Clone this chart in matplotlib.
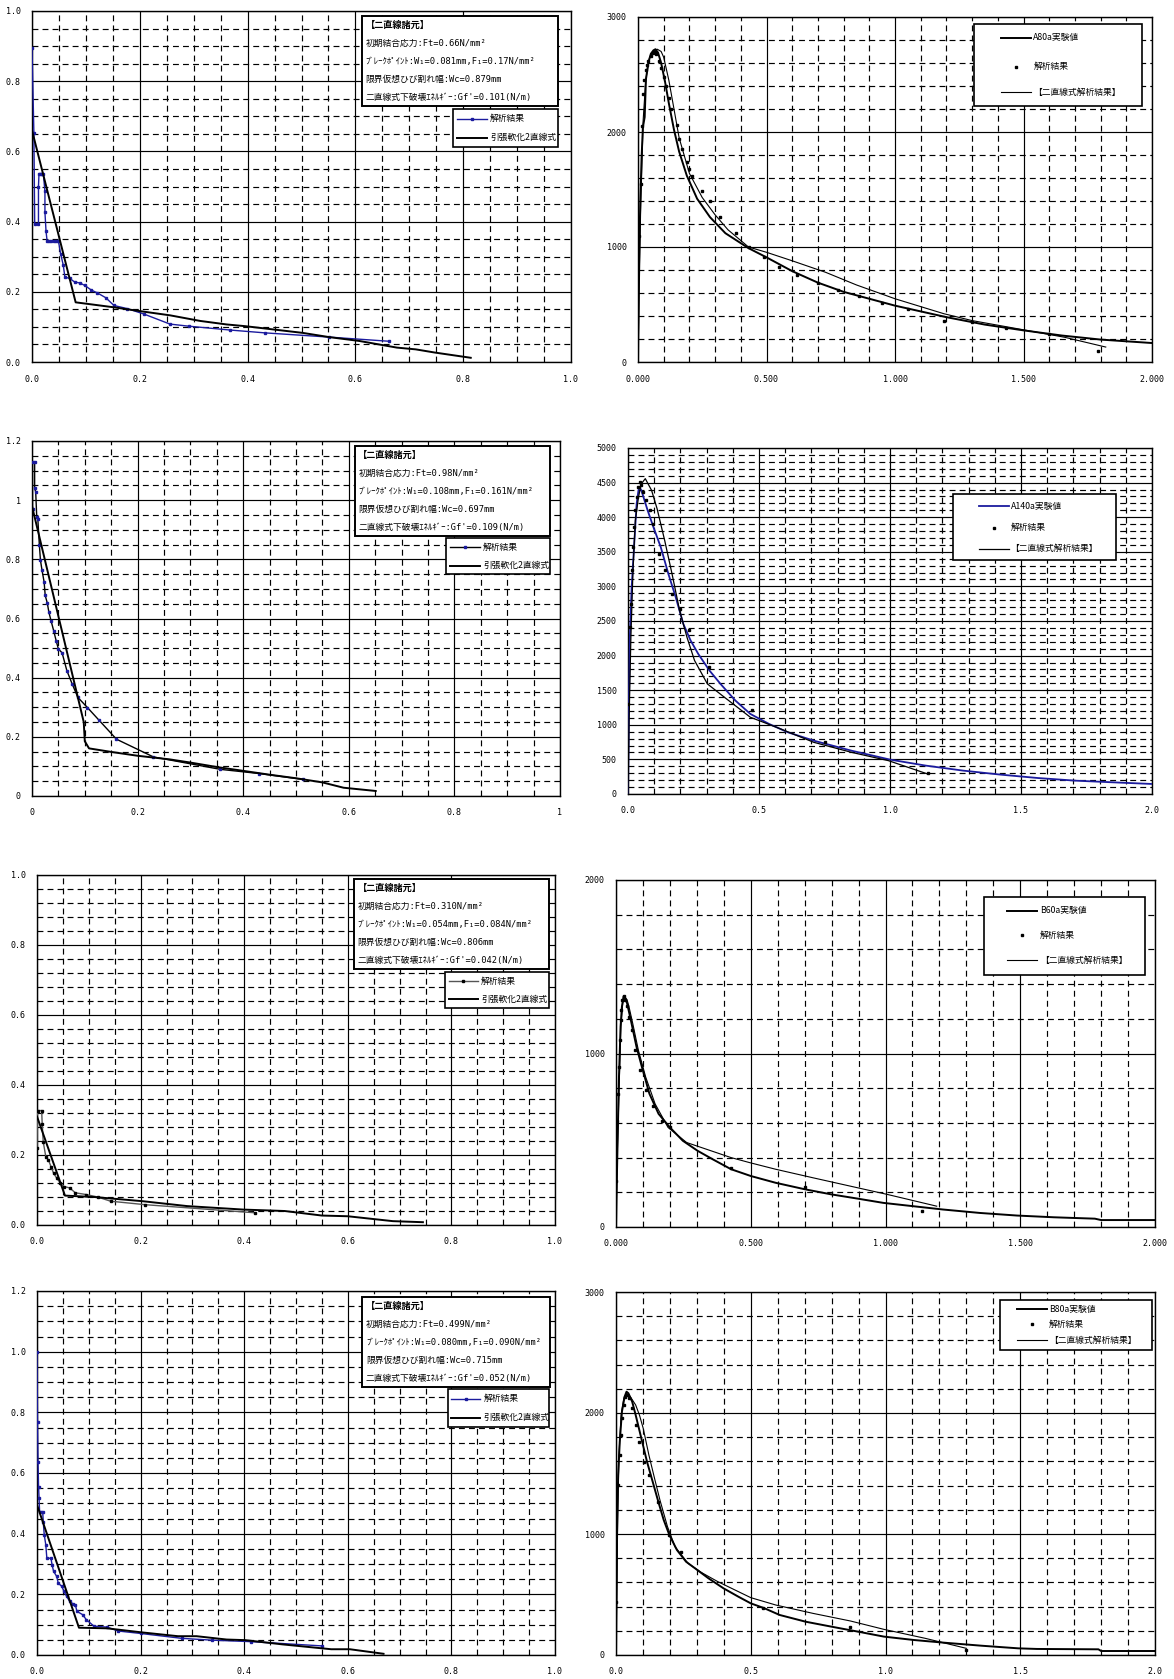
import matplotlib
matplotlib.use('Agg')
import matplotlib.pyplot as plt
from matplotlib.patches import Rectangle
from matplotlib.lines import Line2D
from matplotlib.ticker import MultipleLocator, FixedLocator, FixedFormatter

plt.rcParams['font.family'] = ['Noto Sans CJK JP', 'DejaVu Sans']

# ---------------- Panel 1 ----------------
p1_ana_x = [0, 0.0035, 0.005, 0.012, 0.012, 0.013, 0.016, 0.019, 0.021, 0.024, 0.024, 0.026, 0.028, 0.032, 0.036,
            0.040, 0.045, 0.049, 0.053, 0.058, 0.061, 0.070, 0.079, 0.089, 0.098, 0.110, 0.121, 0.137, 0.152,
            0.177, 0.207, 0.256, 0.291, 0.368, 0.432, 0.551, 0.663]
p1_ana_y = [0.894, 0.652, 0.393, 0.393, 0.500, 0.537, 0.537, 0.537, 0.537, 0.486, 0.427, 0.373, 0.345, 0.345, 0.345,
            0.345, 0.345, 0.345, 0.309, 0.276, 0.242, 0.238, 0.228, 0.225, 0.218, 0.205, 0.197, 0.183, 0.161,
            0.152, 0.137, 0.108, 0.102, 0.091, 0.083, 0.071, 0.059]
p1_bil_x = [0, 0.081, 0.151, 0.200, 0.256, 0.312, 0.361, 0.396, 0.502, 0.551, 0.607, 0.677, 0.712, 0.747, 0.814]
p1_bil_y = [0.66, 0.17, 0.156, 0.145, 0.133, 0.117, 0.107, 0.102, 0.083, 0.071, 0.060, 0.041, 0.036, 0.027, 0.012]
p1_xticks = [0, 0.2, 0.4, 0.6, 0.8, 1.0]
p1_xlabels = ['0.0', '0.2', '0.4', '0.6', '0.8', '1.0']
p1_yticks = [0, 0.2, 0.4, 0.6, 0.8, 1.0]
p1_ylabels = ['0.0', '0.2', '0.4', '0.6', '0.8', '1.0']
p1_box = ['【二直線諸元】', '初期結合応力:Ft=0.66N/mm²', 'ﾌﾞﾚｰｸﾎﾟｲﾝﾄ:W₁=0.081mm,F₁=0.17N/mm²',
          '限界仮想ひび割れ幅:Wc=0.879mm', "二直線式下破壊ｴﾈﾙｷﾞｰ:Gf'=0.101(N/m)"]

# ---------------- Panel 2 ----------------
p2_exp_x = [0, 0.003, 0.009, 0.014, 0.019, 0.026, 0.031, 0.04, 0.05, 0.06, 0.068, 0.078, 0.09, 0.105, 0.12, 0.14,
            0.16, 0.19, 0.23, 0.28, 0.34, 0.43, 0.5, 0.6, 0.7, 0.8, 0.9, 1.0, 1.1, 1.2, 1.35, 1.5, 1.65, 1.8, 1.9, 2.0]
p2_exp_y = [0, 740, 1400, 1780, 2040, 2130, 2460, 2600, 2680, 2710, 2720, 2690, 2600, 2440, 2250, 2020,
            1830, 1620, 1420, 1260, 1120, 990, 910, 790, 690, 610, 550, 490, 440, 390, 325, 275, 230, 195, 180, 165]
p2_ana_x = [0.005, 0.01, 0.015, 0.02, 0.025, 0.03, 0.035, 0.04, 0.05, 0.06, 0.065, 0.07, 0.08, 0.09, 0.1, 0.11,
            0.12, 0.13, 0.15, 0.16, 0.17, 0.19, 0.2, 0.21, 0.25, 0.28, 0.32, 0.38, 0.43, 0.49, 0.55, 0.62, 0.7,
            0.78, 0.86, 0.95, 1.05, 1.19, 1.3, 1.43, 1.6, 1.79]
p2_ana_y = [1100, 1550, 2050, 2330, 2450, 2540, 2580, 2620, 2660, 2690, 2700, 2680, 2620, 2560, 2480, 2400,
            2300, 2200, 2060, 1940, 1850, 1740, 1680, 1620, 1490, 1400, 1260, 1120, 1000, 910, 830, 760, 690,
            630, 570, 515, 465, 355, 350, 300, 245, 95]
p2_bil_x = [0, 0.01, 0.02, 0.03, 0.045, 0.06, 0.075, 0.09, 0.1, 0.12, 0.14, 0.16, 0.2, 0.25, 0.3, 0.35, 0.43,
            0.5, 0.6, 0.73, 0.85, 1.0, 1.19, 1.3, 1.5, 1.66, 1.82]
p2_bil_y = [0, 1300, 2100, 2450, 2650, 2700, 2720, 2700, 2650, 2450, 2200, 1950, 1640, 1430, 1280, 1150, 1000,
            954, 880, 780, 670, 550, 420, 360, 280, 215, 130]
p2_xticks = [0, 0.5, 1.0, 1.5, 2.0]
p2_xlabels = ['0.000', '0.500', '1.000', '1.500', '2.000']
p2_yticks = [0, 1000, 2000, 3000]
p2_ylabels = ['0', '1000', '2000', '3000']
p2_leg = ['A80a実験値', '解析結果', '【二直線式解析結果】']

# ---------------- Panel 3 ----------------
p3_ana_x = [0.001, 0.001, 0.005, 0.005, 0.007, 0.009, 0.011, 0.014, 0.016, 0.019, 0.023, 0.025, 0.029, 0.032,
            0.036, 0.041, 0.046, 0.05, 0.057, 0.066, 0.076, 0.087, 0.105, 0.126, 0.16, 0.23, 0.357, 0.43, 0.514]
p3_ana_y = [0.97, 1.128, 1.128, 1.04, 1.028, 0.943, 0.937, 0.847, 0.797, 0.763, 0.723, 0.678, 0.652, 0.621,
            0.593, 0.559, 0.523, 0.497, 0.484, 0.424, 0.379, 0.333, 0.299, 0.258, 0.192, 0.132, 0.09, 0.076, 0.056]
p3_bil_x = [0, 0.098, 0.1, 0.108, 0.15, 0.2, 0.26, 0.3, 0.35, 0.4, 0.45, 0.5, 0.55, 0.59, 0.651]
p3_bil_y = [0.98, 0.25, 0.185, 0.161, 0.149, 0.136, 0.124, 0.113, 0.098, 0.085, 0.072, 0.060, 0.046, 0.028, 0.017]
p3_xticks = [0, 0.2, 0.4, 0.6, 0.8, 1.0]
p3_xlabels = ['0', '0.2', '0.4', '0.6', '0.8', '1']
p3_yticks = [0, 0.2, 0.4, 0.6, 0.8, 1.0, 1.2]
p3_ylabels = ['0', '0.2', '0.4', '0.6', '0.8', '1', '1.2']
p3_box = ['【二直線諸元】', '初期結合応力:Ft=0.98N/mm²', 'ﾌﾞﾚｰｸﾎﾟｲﾝﾄ:W₁=0.108mm,F₁=0.161N/mm²',
          '限界仮想ひび割れ幅:Wc=0.697mm', "二直線式下破壊ｴﾈﾙｷﾞｰ:Gf'=0.109(N/m)"]

# ---------------- Panel 4 ----------------
p4_exp_x = [0, 0.003, 0.007, 0.014, 0.023, 0.033, 0.04, 0.044, 0.051, 0.061, 0.075, 0.097, 0.125, 0.154, 0.182,
            0.211, 0.239, 0.268, 0.311, 0.353, 0.41, 0.467, 0.538, 0.61, 0.709, 0.852, 1.0, 1.137, 1.279, 1.422,
            1.564, 1.707, 1.849, 2.0]
p4_exp_y = [0, 1060, 2266, 2990, 3568, 4195, 4388, 4436, 4388, 4267, 4098, 3857, 3568, 3182, 2845,
            2459, 2218, 2025, 1784, 1591, 1350, 1157, 1013, 892, 771, 627, 497, 410, 338, 280,
            231, 193, 169, 145]
p4_ana_x = [0.001, 0.009, 0.011, 0.014, 0.019, 0.023, 0.028, 0.033, 0.037, 0.044, 0.051, 0.058, 0.068, 0.083,
            0.097, 0.118, 0.14, 0.168, 0.197, 0.232, 0.311, 0.474, 0.752, 1.144]
p4_ana_y = [1302, 2411, 2748, 3230, 3568, 3857, 4098, 4291, 4436, 4508, 4460, 4364, 4243, 4098,
            3905, 3472, 3230, 2893, 2676, 2363, 1832, 1215, 747, 299]
p4_bil_x = [0, 0.004, 0.011, 0.019, 0.028, 0.04, 0.051, 0.066, 0.09, 0.111, 0.14, 0.168, 0.197, 0.225, 0.254,
            0.303, 0.368, 0.467, 0.567, 0.709, 0.852, 0.994, 1.144]
p4_bil_y = [0, 1060, 2266, 3230, 3954, 4291, 4484, 4557, 4388, 4123, 3664, 3182, 2652, 2266, 1929,
            1591, 1398, 1109, 964, 747, 603, 482, 289]
p4_xticks = [0, 0.5, 1.0, 1.5, 2.0]
p4_xlabels = ['0.0', '0.5', '1.0', '1.5', '2.0']
p4_yticks = [0, 500, 1000, 1500, 2000, 2500, 3000, 3500, 4000, 4500, 5000]
p4_ylabels = ['0', '500', '1000', '1500', '2000', '2500', '3000', '3500', '4000', '4500', '5000']
p4_leg = ['A140a実験値', '解析結果', '【二直線式解析結果】']

# ---------------- Panel 5 ----------------
p5_ana_x = [0, 0.001, 0.009, 0.010, 0.012, 0.017, 0.022, 0.027, 0.032, 0.038, 0.045, 0.052, 0.063, 0.074, 0.095,
            0.117, 0.142, 0.209, 0.42]
p5_ana_y = [0.22, 0.327, 0.327, 0.29, 0.238, 0.195, 0.186, 0.167, 0.148, 0.134, 0.12, 0.11, 0.106, 0.092, 0.087,
            0.08, 0.068, 0.058, 0.035]
p5_bil_x = [0, 0.054, 0.11, 0.204, 0.29, 0.399, 0.478, 0.55, 0.6, 0.687, 0.745]
p5_bil_y = [0.31, 0.084, 0.08, 0.068, 0.054, 0.044, 0.04, 0.027, 0.025, 0.011, 0.008]
p5_xticks = [0, 0.2, 0.4, 0.6, 0.8, 1.0]
p5_xlabels = ['0.0', '0.2', '0.4', '0.6', '0.8', '1.0']
p5_yticks = [0, 0.2, 0.4, 0.6, 0.8, 1.0]
p5_ylabels = ['0.0', '0.2', '0.4', '0.6', '0.8', '1.0']
p5_box = ['【二直線諸元】', '初期結合応力:Ft=0.310N/mm²', 'ﾌﾞﾚｰｸﾎﾟｲﾝﾄ:W₁=0.054mm,F₁=0.084N/mm²',
          '限界仮想ひび割れ幅:Wc=0.806mm', "二直線式下破壊ｴﾈﾙｷﾞｰ:Gf'=0.042(N/m)"]

# ---------------- Panel 6 ----------------
p6_exp_x = [0, 0.003, 0.007, 0.011, 0.017, 0.022, 0.028, 0.034, 0.041, 0.055, 0.076, 0.096, 0.124, 0.158, 0.2,
            0.248, 0.303, 0.358, 0.427, 0.5, 0.592, 0.702, 0.799, 0.895, 0.992, 1.102, 1.212, 1.35, 1.488, 1.625,
            1.777, 1.8, 2.0]
p6_exp_y = [0, 265, 574, 865, 1155, 1271, 1329, 1319, 1290, 1193, 1039, 923, 768, 652, 574,
            497, 439, 391, 333, 294, 255, 217, 188, 164, 139, 120, 101, 81, 66, 56,
            48, 40, 40]
p6_ana_x = [0.0, 0.004, 0.007, 0.011, 0.014, 0.017, 0.019, 0.023, 0.028, 0.034, 0.041, 0.048, 0.058, 0.069,
            0.09, 0.11, 0.138, 0.172, 0.2, 0.427, 0.702, 1.136]
p6_ana_y = [265, 613, 768, 923, 1077, 1193, 1251, 1309, 1329, 1309, 1271, 1213, 1135, 1019,
            903, 787, 700, 613, 574, 342, 230, 95]
p6_bil_x = [0, 0.004, 0.011, 0.018, 0.025, 0.032, 0.041, 0.048, 0.062, 0.083, 0.11, 0.145, 0.193, 0.262, 0.317,
            0.427, 0.496, 0.592, 0.73, 0.868, 1.006, 1.19]
p6_bil_y = [0, 380, 770, 1155, 1290, 1329, 1310, 1271, 1174, 1019, 865, 710, 574, 487, 458,
            400, 371, 333, 284, 236, 188, 120]
p6_xticks = [0, 0.5, 1.0, 1.5, 2.0]
p6_xlabels = ['0.000', '0.500', '1.000', '1.500', '2.000']
p6_yticks = [0, 1000, 2000]
p6_ylabels = ['0', '1000', '2000']
p6_leg = ['B60a実験値', '解析結果', '【二直線式解析結果】']

# ---------------- Panel 7 ----------------
p7_ana_x = [0, 0.001, 0.002, 0.003, 0.004, 0.005, 0.011, 0.012, 0.014, 0.017, 0.019, 0.027, 0.029, 0.032, 0.038,
            0.041, 0.048, 0.052, 0.057, 0.063, 0.07, 0.074, 0.077, 0.088, 0.095, 0.11, 0.135, 0.157, 0.2, 0.279,
            0.337, 0.413, 0.55]
p7_ana_y = [1.0, 0.768, 0.637, 0.555, 0.516, 0.473, 0.473, 0.44, 0.396, 0.363, 0.319, 0.319, 0.298, 0.276, 0.259,
            0.237, 0.226, 0.21, 0.194, 0.177, 0.168, 0.166, 0.144, 0.133, 0.117, 0.095, 0.092, 0.079, 0.071, 0.055,
            0.049, 0.044, 0.03]
p7_bil_x = [0, 0.081, 0.135, 0.2, 0.272, 0.308, 0.366, 0.402, 0.474, 0.568, 0.604, 0.669]
p7_bil_y = [0.495, 0.09, 0.088, 0.075, 0.062, 0.062, 0.051, 0.049, 0.035, 0.019, 0.019, 0.004]
p7_xticks = [0, 0.2, 0.4, 0.6, 0.8, 1.0]
p7_xlabels = ['0.0', '0.2', '0.4', '0.6', '0.8', '1.0']
p7_yticks = [0, 0.2, 0.4, 0.6, 0.8, 1.0, 1.2]
p7_ylabels = ['0.0', '0.2', '0.4', '0.6', '0.8', '1.0', '1.2']
p7_box = ['【二直線諸元】', '初期結合応力:Ft=0.499N/mm²', 'ﾌﾞﾚｰｸﾎﾟｲﾝﾄ:W₁=0.080mm,F₁=0.090N/mm²',
          '限界仮想ひび割れ幅:Wc=0.715mm', "二直線式下破壊ｴﾈﾙｷﾞｰ:Gf'=0.052(N/m)"]

# ---------------- Panel 8 ----------------
p8_exp_x = [0, 0.004, 0.008, 0.014, 0.022, 0.032, 0.039, 0.046, 0.06, 0.073, 0.094, 0.115, 0.136, 0.157, 0.177,
            0.198, 0.226, 0.26, 0.302, 0.343, 0.399, 0.454, 0.5, 0.551, 0.607, 0.704, 0.8, 0.898, 0.994, 1.105,
            1.216, 1.355, 1.493, 1.562, 1.79, 1.8, 2.0]
p8_exp_y = [0, 992, 1488, 1763, 2011, 2135, 2176, 2163, 2094, 1983, 1791, 1598, 1433, 1267, 1116,
            992, 868, 771, 702, 634, 551, 482, 427, 386, 331, 275, 234, 193, 152, 124,
            102, 77, 55, 50, 47, 33, 33]
p8_ana_x = [0, 0.008, 0.014, 0.018, 0.022, 0.028, 0.035, 0.042, 0.05, 0.06, 0.073, 0.087, 0.105, 0.122, 0.157,
            0.198, 0.24, 0.544, 0.87, 1.3]
p8_ana_y = [441, 1405, 1653, 1818, 1956, 2066, 2135, 2149, 2121, 2039, 1901, 1763, 1598, 1488, 1267,
            992, 854, 386, 234, 41]
p8_bil_x = [0, 0.006, 0.011, 0.019, 0.029, 0.039, 0.053, 0.073, 0.087, 0.101, 0.122, 0.143, 0.163, 0.191, 0.219,
            0.267, 0.316, 0.378, 0.5, 0.593, 0.731, 0.87, 0.994, 1.147, 1.3]
p8_bil_y = [0, 1129, 1653, 1983, 2121, 2163, 2135, 2066, 1983, 1873, 1653, 1460, 1281, 1061, 895,
            758, 683, 606, 474, 413, 344, 281, 212, 138, 55]
p8_xticks = [0, 0.5, 1.0, 1.5, 2.0]
p8_xlabels = ['0.0', '0.5', '1.0', '1.5', '2.0']
p8_yticks = [0, 1000, 2000, 3000]
p8_ylabels = ['0', '1000', '2000', '3000']
p8_leg = ['B80a実験値', '解析結果', '【二直線式解析結果】']

left_leg = ['解析結果', '引張軟化2直線式']

BLUE = '#1b1b9e'
W, H = 1174, 1679
fig = plt.figure(figsize=(W / 100, H / 100), dpi=100)
TICKFAMILY = 'DejaVu Sans Mono'
TICKSIZE = 6
BOXFAMILY = ['DejaVu Sans Mono', 'Noto Sans CJK JP']


def make_ax(L, T, R, B):
    return fig.add_axes([L / W, 1 - B / H, (R - L) / W, (B - T) / H])


def style(ax, xlim, ylim, xticks, xlabels, yticks, ylabels, xminor, yminor):
    ax.set_xlim(*xlim)
    ax.set_ylim(*ylim)
    ax.xaxis.set_major_locator(FixedLocator(xticks))
    ax.xaxis.set_major_formatter(FixedFormatter(xlabels))
    ax.yaxis.set_major_locator(FixedLocator(yticks))
    ax.yaxis.set_major_formatter(FixedFormatter(ylabels))
    ax.xaxis.set_minor_locator(MultipleLocator(xminor))
    ax.yaxis.set_minor_locator(MultipleLocator(yminor))
    ax.grid(which='major', color='black', lw=0.85, ls='-')
    ax.grid(which='minor', color='black', lw=0.85, ls=(0, (5, 3.5)))
    ax.set_axisbelow(True)
    ax.tick_params(which='both', length=0)
    ax.tick_params(axis='x', pad=9)
    ax.tick_params(axis='y', pad=8)
    for lab in ax.get_xticklabels() + ax.get_yticklabels():
        lab.set_fontfamily(TICKFAMILY)
        lab.set_fontsize(TICKSIZE)
    for s in ax.spines.values():
        s.set_linewidth(1.0)
        s.set_color('black')


def info_box(ax, lines, x0, y0, x1, y1):
    ax.add_patch(Rectangle((x0, y1), x1 - x0, y0 - y1, transform=ax.transAxes, fc='white', ec='black',
                           lw=1.4, zorder=6))
    n = len(lines)
    for i, t in enumerate(lines):
        yy = y0 - (y0 - y1) * (i + 0.52) / n
        ax.text(x0 + 0.007, yy, t, transform=ax.transAxes, fontsize=6.3 if i else 6.6, va='center', ha='left',
                zorder=7, family=BOXFAMILY, fontweight='bold' if i == 0 else 'normal')


def left_legend(ax, x0, y0, x1, y1, ana_line, bil_line):
    ax.add_patch(Rectangle((x0, y1), x1 - x0, y0 - y1, transform=ax.transAxes, fc='white', ec='black',
                           lw=1.2, zorder=6))
    rows = [y0 - (y0 - y1) * 0.26, y0 - (y0 - y1) * 0.76]
    for yy, src, lab in zip(rows, [ana_line, bil_line], left_leg):
        ax.add_line(Line2D([x0 + 0.007, x0 + 0.063], [yy, yy], transform=ax.transAxes, color=src.get_color(),
                           lw=src.get_linewidth(), zorder=7))
        if src.get_marker() not in (None, 'None', ''):
            ax.add_line(Line2D([x0 + 0.035], [yy], transform=ax.transAxes, marker='s', ms=1.8,
                               color=src.get_markerfacecolor(), ls='none', zorder=8))
        ax.text(x0 + 0.069, yy, lab, transform=ax.transAxes, fontsize=6.3, va='center', ha='left', zorder=7)


def right_legend(ax, x0, y0, x1, y1, labels, handles, rows_frac, lstart, lend, tx):
    ax.add_patch(Rectangle((x0, y1), x1 - x0, y0 - y1, transform=ax.transAxes, fc='white', ec='black',
                           lw=1.2, zorder=6))
    for fr, src, lab in zip(rows_frac, handles, labels):
        yy = y0 - (y0 - y1) * fr
        if src.get_linestyle() not in ('None', 'none', ''):
            ax.add_line(Line2D([x0 + lstart, x0 + lend], [yy, yy], transform=ax.transAxes,
                               color=src.get_color(), lw=src.get_linewidth(), zorder=7))
        else:
            ax.add_line(Line2D([x0 + (lstart + lend) / 2], [yy], transform=ax.transAxes, marker='s', ms=2.0,
                               color='black', ls='none', zorder=7))
        ax.text(x0 + tx, yy, lab, transform=ax.transAxes, fontsize=6.3, va='center', ha='left', zorder=7)


# ---------- Panel 1 ----------
ax1 = make_ax(32, 11, 571, 362)
style(ax1, (0, 1.0), (0, 1.0), p1_xticks, p1_xlabels, p1_yticks, p1_ylabels, 0.05, 0.05)
a1, = ax1.plot(p1_ana_x, p1_ana_y, color=BLUE, lw=1.0, marker='s', ms=1.7, zorder=3)
b1, = ax1.plot(p1_bil_x, p1_bil_y, color='black', lw=1.4, zorder=4)
info_box(ax1, p1_box, 0.612, 0.986, 0.976, 0.729)
left_legend(ax1, 0.781, 0.721, 0.976, 0.613, a1, b1)

# ---------- Panel 2 ----------
ax2 = make_ax(638, 17, 1152, 362)
style(ax2, (0, 2.0), (0, 3000), p2_xticks, p2_xlabels, p2_yticks, p2_ylabels, 0.1, 200)
e2, = ax2.plot(p2_exp_x, p2_exp_y, color='black', lw=1.4, zorder=3)
d2, = ax2.plot(p2_ana_x, p2_ana_y, ls='none', marker='s', ms=1.7, color='black', zorder=4)
t2, = ax2.plot(p2_bil_x, p2_bil_y, color='black', lw=0.8, zorder=4)
right_legend(ax2, 0.654, 0.980, 0.981, 0.742, p2_leg, [e2, d2, t2], [0.17, 0.52, 0.83], 0.053, 0.111, 0.115)

# ---------- Panel 3 ----------
ax3 = make_ax(32, 441, 560, 796)
style(ax3, (0, 1.0), (0, 1.2), p3_xticks, p3_xlabels, p3_yticks, p3_ylabels, 0.05, 0.05)
a3, = ax3.plot(p3_ana_x, p3_ana_y, color='black', lw=1.0, marker='s', ms=1.7, mfc=BLUE, mec=BLUE, zorder=3)
b3, = ax3.plot(p3_bil_x, p3_bil_y, color='black', lw=1.4, zorder=4)
info_box(ax3, p3_box, 0.611, 0.985, 0.982, 0.732)
left_legend(ax3, 0.785, 0.727, 0.982, 0.624, a3, b3)

# ---------- Panel 4 ----------
ax4 = make_ax(628, 448, 1152, 794)
style(ax4, (0, 2.0), (0, 5000), p4_xticks, p4_xlabels, p4_yticks, p4_ylabels, 0.1, 100)
e4, = ax4.plot(p4_exp_x, p4_exp_y, color=BLUE, lw=1.3, zorder=3)
d4, = ax4.plot(p4_ana_x, p4_ana_y, ls='none', marker='s', ms=1.7, color='black', zorder=4)
t4, = ax4.plot(p4_bil_x, p4_bil_y, color='black', lw=0.9, zorder=4)
right_legend(ax4, 0.62, 0.866, 0.932, 0.677, p4_leg, [e4, d4, t4], [0.18, 0.51, 0.83], 0.05, 0.107, 0.11)

# ---------- Panel 5 ----------
ax5 = make_ax(37, 875, 555, 1225)
style(ax5, (0, 1.0), (0, 1.0), p5_xticks, p5_xlabels, p5_yticks, p5_ylabels, 0.05, 0.04)
a5, = ax5.plot(p5_ana_x, p5_ana_y, color='#555555', lw=1.0, marker='s', ms=1.7, mfc='black', mec='black',
               zorder=3)
b5, = ax5.plot(p5_bil_x, p5_bil_y, color='black', lw=1.4, zorder=4)
info_box(ax5, p5_box, 0.612, 0.988, 0.989, 0.732)
left_legend(ax5, 0.788, 0.724, 0.989, 0.62, a5, b5)

# ---------- Panel 6 ----------
ax6 = make_ax(616, 880, 1155, 1227)
style(ax6, (0, 2.0), (0, 2000), p6_xticks, p6_xlabels, p6_yticks, p6_ylabels, 0.1, 200)
e6, = ax6.plot(p6_exp_x, p6_exp_y, color='black', lw=1.4, zorder=3)
d6, = ax6.plot(p6_ana_x, p6_ana_y, ls='none', marker='s', ms=1.7, color='black', zorder=4)
t6, = ax6.plot(p6_bil_x, p6_bil_y, color='black', lw=0.8, zorder=4)
right_legend(ax6, 0.682, 0.95, 0.981, 0.727, p6_leg, [e6, d6, t6], [0.17, 0.49, 0.81], 0.044, 0.1, 0.104)

# ---------- Panel 7 ----------
ax7 = make_ax(37, 1291, 555, 1655)
style(ax7, (0, 1.0), (0, 1.2), p7_xticks, p7_xlabels, p7_yticks, p7_ylabels, 0.05, 0.05)
a7, = ax7.plot(p7_ana_x, p7_ana_y, color=BLUE, lw=1.0, marker='s', ms=1.7, zorder=3)
b7, = ax7.plot(p7_bil_x, p7_bil_y, color='black', lw=1.4, zorder=4)
info_box(ax7, p7_box, 0.628, 0.984, 0.991, 0.737)
left_legend(ax7, 0.793, 0.731, 0.988, 0.627, a7, b7)

# ---------- Panel 8 ----------
ax8 = make_ax(616, 1292, 1155, 1655)
style(ax8, (0, 2.0), (0, 3000), p8_xticks, p8_xlabels, p8_yticks, p8_ylabels, 0.1, 200)
e8, = ax8.plot(p8_exp_x, p8_exp_y, color='black', lw=1.4, zorder=3)
d8, = ax8.plot(p8_ana_x, p8_ana_y, ls='none', marker='s', ms=1.7, color='black', zorder=4)
t8, = ax8.plot(p8_bil_x, p8_bil_y, color='black', lw=0.8, zorder=4)
right_legend(ax8, 0.712, 0.978, 0.994, 0.84, p8_leg, [e8, d8, t8], [0.18, 0.48, 0.8], 0.032, 0.088, 0.091)

fig.savefig('out.png', dpi=100, facecolor='white')
